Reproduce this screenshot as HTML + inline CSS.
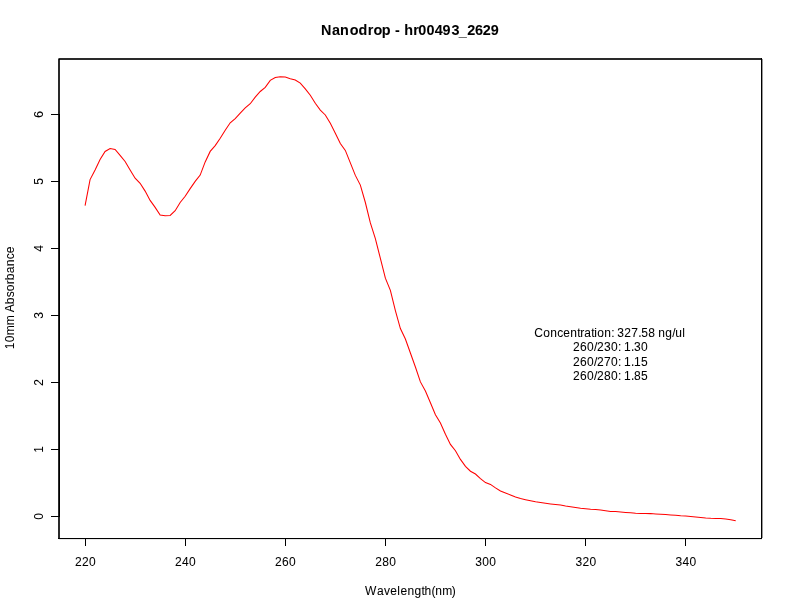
<!DOCTYPE html>
<html lang="en">
<head>
<meta charset="utf-8">
<title>Nanodrop - hr00493_2629</title>
<style>
html,body{margin:0;padding:0;background:#fff;}
body{width:792px;height:612px;overflow:hidden;}
svg{display:block;}
text{font-family:"Liberation Sans",sans-serif;fill:#000;white-space:pre;stroke:#000;stroke-width:0.05px;}
.t{font-size:12px;}
.m{font-size:14.4px;font-weight:bold;}
</style>
</head>
<body>
<svg width="792" height="612" viewBox="0 0 792 612">
<rect x="0" y="0" width="792" height="612" fill="#fff"/>
<polyline fill="none" stroke="#f00" stroke-width="1.05" stroke-linejoin="miter" stroke-linecap="butt" points="85.07,205.6 90.07,179.6 95.08,169.9 100.08,159.4 105.09,151.5 110.09,148.6 115.1,149.4 120.1,155.3 125.11,161.5 130.11,169.9 135.12,178.2 140.12,183.3 145.13,191.1 150.13,200.4 155.14,207.4 160.14,215 165.15,215.8 170.15,215.4 175.16,210.7 180.16,202.5 185.17,196.3 190.17,188.6 195.18,181.4 200.18,175.1 205.19,161.9 210.19,151.4 215.2,145.6 220.21,138.2 225.21,130.2 230.22,122.8 235.22,118.6 240.23,113.1 245.23,107.8 250.24,103.75 255.24,97.1 260.25,91.5 265.25,87.4 270.26,80.4 275.26,77.5 280.27,76.7 285.27,77.1 290.28,78.7 295.28,80 300.29,83.1 305.29,88.9 310.3,95.3 315.3,103.2 320.31,110.1 325.31,115 330.32,123.3 335.32,133.2 340.33,143.5 345.33,150.4 350.34,162.9 355.34,175.4 360.35,185.1 365.35,202.5 370.36,222.9 375.36,238.6 380.37,258.4 385.37,278.2 390.38,290.4 395.38,310.6 400.39,328.6 405.39,339 410.4,353 415.41,367 420.41,381.9 425.42,391 430.42,402.8 435.43,414.8 440.43,423 445.44,434.2 450.44,444.4 455.45,450.8 460.45,459.4 465.46,466.4 470.46,471.25 475.47,474 480.47,478.6 485.48,482.6 490.48,484.4 495.49,487.9 500.49,491 505.5,493 510.5,495 515.51,497 520.51,498.6 525.52,499.7 530.52,500.8 535.53,501.8 540.53,502.6 545.54,503.3 550.54,503.9 555.55,504.4 560.55,505.1 565.56,506 570.56,506.7 575.57,507.4 580.57,508.2 585.58,508.75 590.58,509.3 595.59,509.6 600.59,510.1 605.6,510.8 610.61,511.4 615.61,511.5 620.62,511.9 625.62,512.4 630.63,512.8 635.63,513.3 640.64,513.5 645.64,513.6 650.65,513.6 655.65,513.9 660.66,514.2 665.66,514.4 670.67,514.9 675.67,515.3 680.68,515.8 685.68,516.05 690.69,516.45 695.69,517 700.7,517.5 705.7,518 710.71,518.35 715.71,518.5 720.72,518.6 725.72,518.9 730.73,519.7 735.73,520.7"/>
<g shape-rendering="crispEdges" stroke="none">
<rect x="58" y="58" width="704" height="2" fill="#2a2a2a"/>
<rect x="58" y="58" width="2" height="481" fill="#2a2a2a"/>
<rect x="58" y="58" width="1" height="1" fill="#8a8a8a"/>
<rect x="59" y="59" width="1" height="1" fill="#000"/>
<rect x="761" y="58" width="1" height="481" fill="#000"/>
<rect x="762" y="59" width="1" height="479" fill="#999"/>
<rect x="58" y="538" width="704" height="1" fill="#000"/>
<rect x="59" y="539" width="703" height="1" fill="#e8e8e8"/>
<rect x="85" y="538" width="601" height="1" fill="#000"/>
<rect x="85" y="538" width="1" height="8" fill="#000"/>
<rect x="185" y="538" width="1" height="8" fill="#000"/>
<rect x="285" y="538" width="1" height="8" fill="#000"/>
<rect x="385" y="538" width="1" height="8" fill="#000"/>
<rect x="485" y="538" width="1" height="8" fill="#000"/>
<rect x="585" y="538" width="1" height="8" fill="#000"/>
<rect x="685" y="538" width="1" height="8" fill="#000"/>
<rect x="59" y="114" width="1" height="403" fill="#000"/>
<rect x="51" y="516" width="9" height="1" fill="#000"/>
<rect x="51" y="449" width="9" height="1" fill="#000"/>
<rect x="51" y="382" width="9" height="1" fill="#000"/>
<rect x="51" y="315" width="9" height="1" fill="#000"/>
<rect x="51" y="248" width="9" height="1" fill="#000"/>
<rect x="51" y="181" width="9" height="1" fill="#000"/>
<rect x="51" y="114" width="9" height="1" fill="#000"/>
</g>
<text class="t" x="74.92 81.92 88.92" y="566.2">220</text>
<text class="t" x="175.02 182.02 189.02" y="566.2">240</text>
<text class="t" x="275.12 282.12 289.12" y="566.2">260</text>
<text class="t" x="375.22 382.22 389.22" y="566.2">280</text>
<text class="t" x="475.33 482.33 489.33" y="566.2">300</text>
<text class="t" x="575.43 582.43 589.43" y="566.2">320</text>
<text class="t" x="675.53 682.53 689.53" y="566.2">340</text>
<text class="t" transform="translate(43,519.8) rotate(-90)" x="0" y="0">0</text>
<text class="t" transform="translate(43,452.8) rotate(-90)" x="0" y="0">1</text>
<text class="t" transform="translate(43,385.8) rotate(-90)" x="0" y="0">2</text>
<text class="t" transform="translate(43,318.8) rotate(-90)" x="0" y="0">3</text>
<text class="t" transform="translate(43,251.8) rotate(-90)" x="0" y="0">4</text>
<text class="t" transform="translate(43,184.8) rotate(-90)" x="0" y="0">5</text>
<text class="t" transform="translate(43,117.8) rotate(-90)" x="0" y="0">6</text>
<text class="m" x="321.04 331.88 340.05 349.64 358.61 367.65 373.44 381.75 390.6 394.9 400 404.24 413.35 418.33 426.53 434.78 442.4 451.5 458.84 467.2 474.9 482.8 490.7" y="35 35 35 35 35 35 35 35 35 35 35 35 35 35 35 35 35 35 35.7 35 35 35 35">Nanodrop - hr00493_2629</text>
<text class="t" x="365.1 377 384.1 390.2 397.3 400.6 407.6 414.6 421.6 424.6 431.4 435.3 442.3 451.7" y="594.7">Wavelength(nm)</text>
<text class="t" transform="translate(14.2,349.2) rotate(-90)" x="0 7 14 24 34 37 45 52 58 65 69 76 83 90 96" y="0">10mm Absorbance</text>
<text class="t" x="534.3 543.3 550.3 557.3 563.3 570.3 577.3 580.3 584.3 591.3 594.3 597.3 604.3 611.3 614.3 617.3 624.3 631.3 638.3 641.3 648.3 655.3 658.3 665.3 672.3 675.3 682.3" y="336.8">Concentration: 327.58 ng/ul</text>
<text class="t" x="572.9 579.9 586.9 593.9 596.9 603.9 610.9 617.9 620.9 623.9 630.9 633.9 640.9" y="351">260/230: 1.30</text>
<text class="t" x="572.9 579.9 586.9 593.9 596.9 603.9 610.9 617.9 620.9 623.9 630.9 633.9 640.9" y="365.9">260/270: 1.15</text>
<text class="t" x="572.9 579.9 586.9 593.9 596.9 603.9 610.9 617.9 620.9 623.9 630.9 633.9 640.9" y="380">260/280: 1.85</text>
</svg>
</body>
</html>
